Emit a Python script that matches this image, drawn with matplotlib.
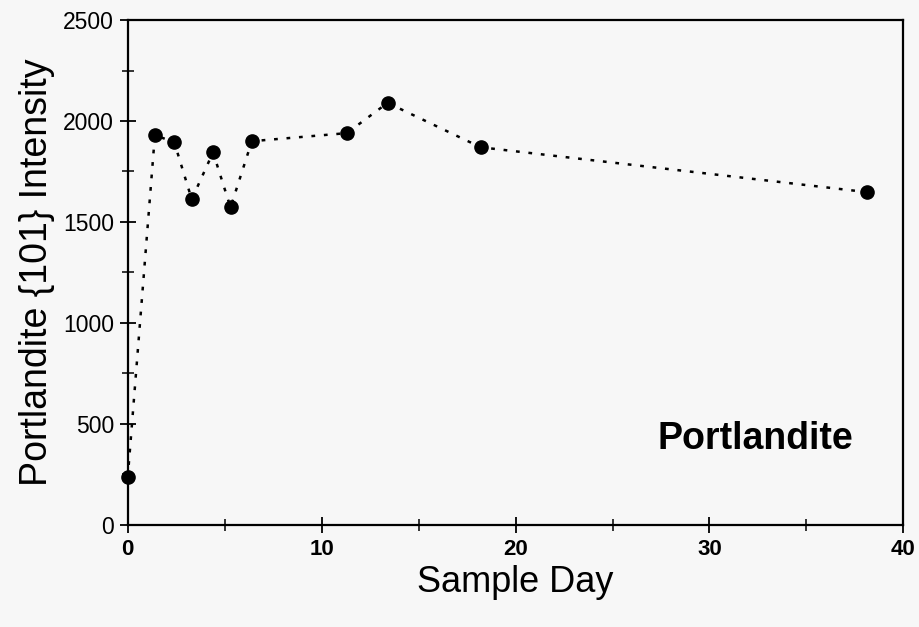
import matplotlib.pyplot as plt
from matplotlib.ticker import MultipleLocator

# Portlandite {101} peak intensity vs sample day
days = [0.0, 1.4, 2.4, 3.3, 4.4, 5.3, 6.4, 11.3, 13.4, 18.2, 38.1]
intensity = [235, 1930, 1895, 1612, 1845, 1572, 1900, 1940, 2090, 1870, 1648]

x_ticks = [0, 10, 20, 30, 40]
y_ticks = [0, 500, 1000, 1500, 2000, 2500]

plt.rcParams['font.family'] = ['Liberation Sans', 'DejaVu Sans']

fig = plt.figure(figsize=(9.19, 6.27), dpi=100)
fig.patch.set_facecolor('#f7f7f7')
ax = fig.add_axes([0.139, 0.163, 0.844, 0.805])
ax.set_facecolor('#f7f7f7')

ax.plot(days, intensity, color='black', linestyle=(0, (1.5, 3.5)), linewidth=1.8,
        marker='o', markersize=9.5, markerfacecolor='black', markeredgecolor='black',
        clip_on=False, zorder=3)

ax.set_xlim(0, 40)
ax.set_ylim(0, 2500)
ax.set_xticks(x_ticks)
ax.set_yticks(y_ticks)
ax.xaxis.set_minor_locator(MultipleLocator(5))
ax.yaxis.set_minor_locator(MultipleLocator(250))

for s in ax.spines.values():
    s.set_linewidth(1.6)

ax.tick_params(which='major', direction='inout', length=12, width=1.3)
ax.tick_params(which='minor', direction='inout', length=8, width=1.1)
ax.tick_params(axis='x', labelsize=16, pad=4)
ax.tick_params(axis='y', labelsize=16.5, pad=4)
for lab in ax.get_xticklabels():
    lab.set_fontweight('bold')

ax.set_xlabel('Sample Day', fontsize=26, labelpad=4)
ax.set_ylabel('Portlandite {101} Intensity', fontsize=27, labelpad=6)

ax.text(0.935, 0.17, 'Portlandite', transform=ax.transAxes, fontsize=27,
        fontweight='bold', ha='right', va='center')

fig.savefig('out.png', dpi=100, facecolor=fig.get_facecolor())
